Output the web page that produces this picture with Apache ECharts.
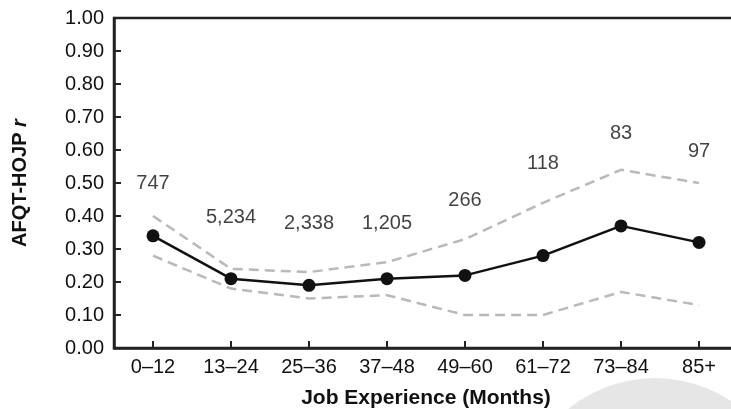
<!DOCTYPE html>
<html>
<head>
<meta charset="utf-8">
<script src="https://cdn.jsdelivr.net/npm/echarts@6/dist/echarts.min.js"></script>
<style>
html,body{margin:0;padding:0;background:#fff;}
#chart{width:731px;height:409px;}
</style>
</head>
<body>
<div id="chart"></div>
<script>
// ---- data ----
var categories = ['0\u201312', '13\u201324', '25\u201336', '37\u201348', '49\u201360', '61\u201372', '73\u201384', '85+'];
var correlation = [0.34, 0.21, 0.19, 0.21, 0.22, 0.28, 0.37, 0.32];
var upperCI = [0.40, 0.24, 0.23, 0.26, 0.33, 0.44, 0.54, 0.50];
var lowerCI = [0.28, 0.18, 0.15, 0.16, 0.10, 0.10, 0.17, 0.13];
var sampleSizes = ['747', '5,234', '2,338', '1,205', '266', '118', '83', '97'];
var sampleLabelHeights = [0.50, 0.395, 0.377, 0.377, 0.447, 0.558, 0.649, 0.595];

var FONT = '"Liberation Sans", Arial, Helvetica, sans-serif';
var chart = echarts.init(document.getElementById('chart'), null, {renderer: 'canvas'});

var dashStyle = {color: '#b9b9b9', width: 2.5, type: [10, 6]};

var option = {
  animation: false,
  backgroundColor: '#ffffff',
  grid: {
    left: 114, top: 18, bottom: 61, right: -7,
    show: true, borderColor: '#222', borderWidth: 2.5,
    containLabel: false, outerBoundsMode: 'none'
  },
  graphic: [{
    type: 'circle', z: -10, silent: true,
    shape: {cx: 655, cy: 515, r: 137},
    style: {fill: '#e6e6e6'}
  }],
  xAxis: {
    type: 'category',
    data: categories,
    boundaryGap: true,
    axisLine: {show: true, lineStyle: {color: '#222', width: 2.5}},
    axisTick: {show: true, inside: true, alignWithLabel: true, length: 7, lineStyle: {color: '#222', width: 2}},
    axisLabel: {color: '#111', fontSize: 20, fontFamily: FONT, margin: 9},
    splitLine: {show: false},
    name: 'Job Experience (Months)',
    nameLocation: 'middle',
    nameGap: 40,
    nameTextStyle: {color: '#111', fontSize: 21, fontWeight: 'bold', fontFamily: FONT}
  },
  yAxis: {
    type: 'value',
    min: 0, max: 1, interval: 0.1,
    axisLine: {show: true, lineStyle: {color: '#222', width: 2.5}},
    axisTick: {show: true, inside: true, length: 7, lineStyle: {color: '#222', width: 2}},
    axisLabel: {color: '#111', fontSize: 20, fontFamily: FONT, margin: 10,
      formatter: function (v) { return v.toFixed(2); }},
    splitLine: {show: false},
    name: '{b|AFQT-HOJP }{i|r}',
    nameLocation: 'middle',
    nameRotate: 90,
    nameGap: 84,
    nameTextStyle: {
      rich: {
        b: {fontSize: 20, fontWeight: 'bold', fontFamily: FONT, color: '#111'},
        i: {fontSize: 20, fontWeight: 'bold', fontStyle: 'italic', fontFamily: FONT, color: '#111'}
      }
    }
  },
  series: [
    {
      type: 'line', data: upperCI, symbol: 'none', lineStyle: dashStyle, z: 2
    },
    {
      type: 'line', data: lowerCI, symbol: 'none', lineStyle: dashStyle, z: 2
    },
    {
      type: 'line', data: correlation, symbol: 'circle', symbolSize: 13,
      itemStyle: {color: '#111'}, lineStyle: {color: '#111', width: 2.5}, z: 3
    },
    {
      type: 'scatter', symbolSize: 0, z: 4,
      data: sampleLabelHeights.map(function (h, i) { return [i, h]; }),
      label: {
        show: true, position: 'inside', color: '#111', fontSize: 20, fontFamily: FONT,
        formatter: function (p) { return sampleSizes[p.dataIndex]; }
      }
    }
  ]
};
chart.setOption(option);
</script>
</body>
</html>
